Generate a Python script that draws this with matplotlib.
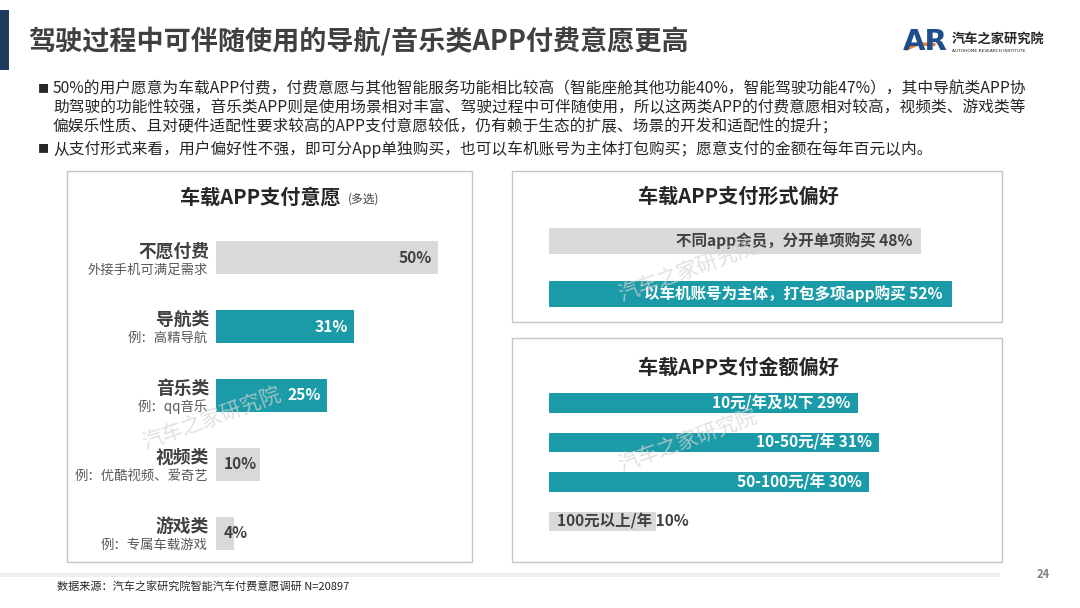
import matplotlib
matplotlib.use('Agg')
import matplotlib.pyplot as plt
from matplotlib.patches import Rectangle
from matplotlib.lines import Line2D

plt.rcParams['font.family'] = ['Noto Sans CJK SC', 'DejaVu Sans']

# ---------------- data ----------------
main_title = '驾驶过程中可伴随使用的导航/音乐类APP付费意愿更高'
bullet_lines = [
    '50%的用户愿意为车载APP付费，付费意愿与其他智能服务功能相比较高（智能座舱其他功能40%，智能驾驶功能47%），其中导航类APP协',
    '助驾驶的功能性较强，音乐类APP则是使用场景相对丰富、驾驶过程中可伴随使用，所以这两类APP的付费意愿相对较高，视频类、游戏类等',
    '偏娱乐性质、且对硬件适配性要求较高的APP支付意愿较低，仍有赖于生态的扩展、场景的开发和适配性的提升；',
    '从支付形式来看，用户偏好性不强，即可分App单独购买，也可以车机账号为主体打包购买；愿意支付的金额在每年百元以内。',
]

will_title = '车载APP支付意愿'
will_note = '(多选)'
will_main = ['不愿付费', '导航类', '音乐类', '视频类', '游戏类']
will_sub = ['外接手机可满足需求', '例：高精导航', '例：qq音乐', '例：优酷视频、爱奇艺', '例：专属车载游戏']
will_vals = [50, 31, 25, 10, 4]
will_hi = [False, True, True, False, False]

form_title = '车载APP支付形式偏好'
form_labels = ['不同app会员，分开单项购买', '以车机账号为主体，打包多项app购买']
form_vals = [48, 52]
form_hi = [False, True]

amt_title = '车载APP支付金额偏好'
amt_labels = ['10元/年及以下', '10-50元/年', '50-100元/年', '100元以上/年']
amt_vals = [29, 31, 30, 10]
amt_hi = [True, True, True, False]

source_text = '数据来源：汽车之家研究院智能汽车付费意愿调研 N=20897'
page_no = '24'

# ---------------- style ----------------
W, H = 1080, 608
TEAL = '#1b9ba7'
GREY = '#d9d9d9'
DARK = '#404040'
PT = 0.72  # points per pixel at dpi 100

fig = plt.figure(figsize=(10.8, 6.08), dpi=100)
fig.patch.set_facecolor('white')


def fx(x):
    return x / W


def fy(y):
    return 1 - y / H


def ftext(x, y, s, **kw):
    fig.text(fx(x), fy(y), s, **kw)


def frect(x0, y0, x1, y1, **kw):
    fig.patches.append(Rectangle((fx(x0), fy(y1)), (x1 - x0) / W, (y1 - y0) / H,
                                 transform=fig.transFigure, zorder=-5, **kw))


def px_axes(x0, y0, x1, y1):
    ax = fig.add_axes([fx(x0), fy(y1), (x1 - x0) / W, (y1 - y0) / H])
    ax.set_axis_off()
    ax.patch.set_alpha(0)
    ax.set_zorder(2)
    return ax


# ---------------- header ----------------
frect(0, 10, 9, 70, facecolor='#1f3b5c', edgecolor='none')
ftext(28, 42, main_title, fontsize=19.5, fontweight='bold', color=DARK, ha='left', va='center')

# logo
ftext(903, 42, 'AR', fontsize=21, fontweight='heavy', color='#1f4e8c', ha='left', va='center',
      family=['DejaVu Sans'])
fig.lines.append(Line2D([fx(906), fx(918), fx(934)], [fy(49), fy(44), fy(44.5)],
                        transform=fig.transFigure, color='#ee7d2b', lw=2.5, solid_capstyle='round'))
ftext(952, 39, '汽车之家研究院', fontsize=9.5, fontweight='bold', color='#262626', ha='left', va='center')
ftext(952, 51, 'AUTOHOME RESEARCH INSTITUTE', fontsize=3.2, color='#262626', ha='left', va='center',
      family=['DejaVu Sans'])

# bullets
bullet_y = [89, 108, 127, 149]
for i, (line, y) in enumerate(zip(bullet_lines, bullet_y)):
    if i in (0, 3):
        ftext(38, y, '■', fontsize=8, color='#262626', ha='left', va='center')
    ftext(53, y, line, fontsize=11.3, color='#262626', ha='left', va='center')

# ---------------- panels ----------------
frect(67, 171, 472, 562, facecolor='white', edgecolor='#c6c6c6', lw=1.0)
frect(512, 171, 1002, 322, facecolor='white', edgecolor='#c6c6c6', lw=1.0)
frect(512, 338, 1002, 562, facecolor='white', edgecolor='#c6c6c6', lw=1.0)

ftext(180, 197, will_title, fontsize=14.5, fontweight='bold', color='#262626', ha='left', va='center')
ftext(348, 199, will_note, fontsize=8.5, color='#404040', ha='left', va='center')
ftext(638, 196, form_title, fontsize=14.5, fontweight='bold', color='#262626', ha='left', va='center')
ftext(638, 367, amt_title, fontsize=14.5, fontweight='bold', color='#262626', ha='left', va='center')

# ---- left panel chart ----
ax1 = px_axes(216, 223.5, 438, 567.5)
ax1.set_xlim(0, 50)
ax1.set_ylim(4.5, -0.5)
pos1 = list(range(len(will_vals)))
ax1.barh(pos1, will_vals, height=0.48, color=[TEAL if h else GREY for h in will_hi])
for i, (m, s, v, h) in enumerate(zip(will_main, will_sub, will_vals, will_hi)):
    ax1.annotate(m, xy=(0, i), xytext=(-7 * PT, 6.5 * PT), textcoords='offset points',
                 ha='right', va='center', fontsize=12.8, fontweight='bold', color=DARK,
                 annotation_clip=False)
    ax1.annotate(s, xy=(0, i), xytext=(-8 * PT, -11.5 * PT), textcoords='offset points',
                 ha='right', va='center', fontsize=9.6, color='#595959', annotation_clip=False)
    col = 'white' if h else DARK
    if v * 222 / 50 >= 50:
        ax1.annotate(f'{v}%', xy=(v, i), xytext=(-6 * PT, 0), textcoords='offset points',
                     ha='right', va='center', fontsize=11.2, fontweight='bold', color=col)
    else:
        ax1.annotate(f'{v}%', xy=(0, i), xytext=(8 * PT, 0), textcoords='offset points',
                     ha='left', va='center', fontsize=11.2, fontweight='bold', color=col)

# ---- top right chart ----
ax2 = px_axes(549, 214.5, 549 + 7.75 * 60, 320.5)
ax2.set_xlim(0, 60)
ax2.set_ylim(1.5, -0.5)
ax2.barh(range(len(form_vals)), form_vals, height=0.48, color=[TEAL if h else GREY for h in form_hi])
for i, (lab, v, h) in enumerate(zip(form_labels, form_vals, form_hi)):
    ax2.annotate(f'{lab} {v}%', xy=(v, i), xytext=(-9 * PT, 0), textcoords='offset points',
                 ha='right', va='center', fontsize=11.2, fontweight='bold',
                 color='white' if h else DARK)

# ---- bottom right chart ----
ax3 = px_axes(549, 383.25, 549 + 10.65 * 40, 541.25)
ax3.set_xlim(0, 40)
ax3.set_ylim(3.5, -0.5)
ax3.barh(range(len(amt_vals)), amt_vals, height=0.5, color=[TEAL if h else GREY for h in amt_hi])
for i, (lab, v, h) in enumerate(zip(amt_labels, amt_vals, amt_hi)):
    if h:
        ax3.annotate(f'{lab} {v}%', xy=(v, i), xytext=(-7 * PT, 0), textcoords='offset points',
                     ha='right', va='center', fontsize=11.2, fontweight='bold', color='white')
    else:
        ax3.annotate(f'{lab} {v}%', xy=(0, i), xytext=(8 * PT, 0), textcoords='offset points',
                     ha='left', va='center', fontsize=11.2, fontweight='bold', color=DARK)

# ---------------- watermarks ----------------
for (x, y) in [(212, 419), (688, 271), (688, 441)]:
    ftext(x, y, '汽车之家研究院', fontsize=15, color='#d4d4d4', alpha=0.7, rotation=20,
          ha='center', va='center', zorder=10)

# ---------------- footer ----------------
frect(0, 573, 1000, 577, facecolor='#ededed', edgecolor='none')
ftext(57, 586, source_text, fontsize=8, color='#262626', ha='left', va='center')
ftext(1043, 574, page_no, fontsize=8, fontweight='bold', color='#7f7f7f', ha='center', va='center')

fig.savefig('out.png', dpi=100, facecolor='white')
